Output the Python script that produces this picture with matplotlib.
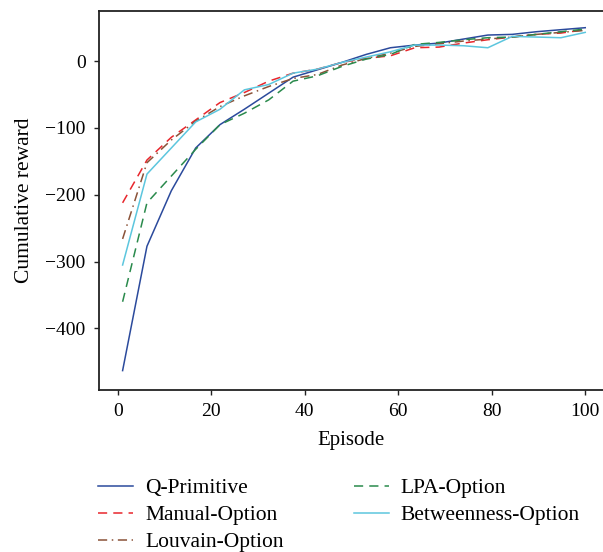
import numpy as np
import matplotlib
matplotlib.use("Agg")
import matplotlib.pyplot as plt

plt.rcParams['font.family'] = ['Liberation Serif', 'DejaVu Serif']

episodes = np.linspace(1, 100, 20)
q_primitive = [-463, -277, -194, -130, -95, -72, -48, -24, -13, -2, 10, 20, 24, 27, 33, 39, 40, 44, 47, 50]
manual_option = [-212, -148, -114, -88, -62, -47, -30, -18, -12, -2, 4, 8, 20, 21, 27, 32, 36, 40, 42, 47]
louvain_option = [-266, -152, -118, -90, -68, -52, -38, -26, -20, -6, 4, 12, 22, 26, 30, 33, 36, 40, 43, 46]
lpa_option = [-360, -212, -172, -132, -95, -78, -58, -30, -22, -8, 3, 10, 25, 28, 32, 35, 36, 40, 44, 48]
betweenness_option = [-305, -169, -130, -91, -72, -43, -35, -18, -12, -2, 6, 14, 24, 24, 23, 20, 37, 36, 35, 43]

x_ticks = [0, 20, 40, 60, 80, 100]
y_ticks = [0, -100, -200, -300, -400]

fig = plt.figure(figsize=(6.03, 5.52), dpi=100)
ax = fig.add_axes([0.1638, 0.2935, 0.8362, 0.6866])

lw = 1.1
ax.plot(episodes, q_primitive, color='#2b4a9c', lw=lw, label='Q-Primitive')
ax.plot(episodes, manual_option, color='#e8262c', lw=lw, ls=(0, (6, 4)), label='Manual-Option')
ax.plot(episodes, louvain_option, color='#8a5238', lw=lw, ls=(0, (6, 3, 1, 3)), label='Louvain-Option')
ax.plot(episodes, lpa_option, color='#2a8a4c', lw=lw, ls=(0, (6, 4)), label='LPA-Option')
ax.plot(episodes, betweenness_option, color='#5cc6de', lw=lw, label='Betweenness-Option')

ax.set_xlim(-4.1, 103.8)
ax.set_ylim(-492, 75)
ax.set_xticks(x_ticks)
ax.set_yticks(y_ticks)
ax.set_yticklabels(['0', '\u2212100', '\u2212200', '\u2212300', '\u2212400'])
ax.tick_params(direction='out', length=3.5, width=1, labelsize=14, pad=6, color='#222222')
ax.spines['right'].set_visible(False)
for s in ['left', 'top', 'bottom']:
    ax.spines[s].set_linewidth(1.3)
    ax.spines[s].set_color('#222222')

ax.set_xlabel('Episode', fontsize=15, labelpad=8)
ax.set_ylabel('Cumulative reward', fontsize=15.5, labelpad=8)

handles, labels = ax.get_legend_handles_labels()
fig.legend(handles, labels, loc='upper left',
           bbox_to_anchor=(98 / 603, 1 - 478 / 552),
           ncol=2, frameon=False, fontsize=15.5, handlelength=1.63, handletextpad=0.56,
           columnspacing=3.25, labelspacing=0.33, borderaxespad=0, borderpad=0)

fig.savefig('out.png', dpi=100)
